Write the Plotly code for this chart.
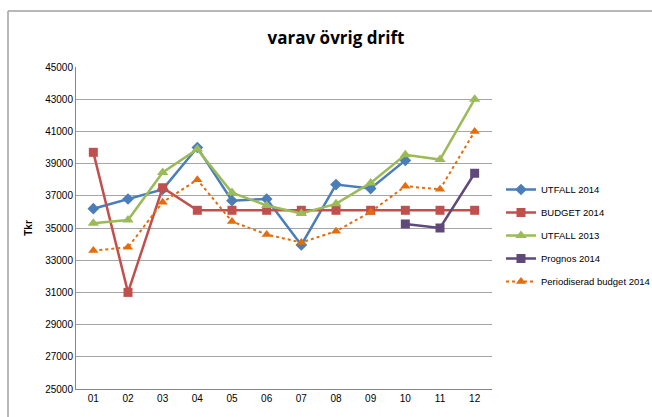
import plotly.graph_objects as go

months = ["01", "02", "03", "04", "05", "06", "07", "08", "09", "10", "11", "12"]
utfall_2014 = [36200, 36800, 37400, 40000, 36700, 36800, 33950, 37700, 37450, 39200, None, None]
budget_2014 = [39700, 31000, 37500, 36100, 36100, 36100, 36100, 36100, 36100, 36100, 36100, 36100]
utfall_2013 = [35300, 35500, 38450, 39900, 37200, 36400, 35900, 36500, 37800, 39550, 39250, 43000]
prognos_2014 = [None, None, None, None, None, None, None, None, None, 35250, 35000, 38400]
periodiserad_2014 = [33600, 33800, 36600, 38000, 35400, 34600, 34100, 34800, 36000, 37600, 37400, 41000]
y_ticks = [25000, 27000, 29000, 31000, 33000, 35000, 37000, 39000, 41000, 43000, 45000]

fig = go.Figure()
fig.add_trace(go.Scatter(x=months, y=utfall_2014, name="UTFALL 2014", mode="lines+markers",
                         legendgroup="a",
                         line=dict(color="#4A7EBB", width=2.5),
                         marker=dict(symbol="diamond", size=9, color="#4A7EBB")))
fig.add_trace(go.Scatter(x=months, y=budget_2014, name="BUDGET 2014", mode="lines+markers",
                         legendgroup="b",
                         line=dict(color="#C0504D", width=2.5),
                         marker=dict(symbol="square", size=9, color="#C0504D")))
fig.add_trace(go.Scatter(x=months, y=utfall_2013, name="UTFALL 2013", mode="lines+markers",
                         legendgroup="c",
                         line=dict(color="#9BBB59", width=2.5),
                         marker=dict(symbol="triangle-up", size=10, color="#9BBB59")))
fig.add_trace(go.Scatter(x=months, y=prognos_2014, name="Prognos 2014", mode="lines+markers",
                         legendgroup="d",
                         line=dict(color="#5F497A", width=2.5),
                         marker=dict(symbol="square", size=9, color="#5F497A")))
fig.add_trace(go.Scatter(x=months, y=periodiserad_2014, name="Periodiserad budget 2014", mode="lines+markers",
                         legendgroup="e",
                         line=dict(color="#E46C0A", width=2, dash="dot"),
                         marker=dict(symbol="triangle-up", size=9, color="#E46C0A")))

L, R, T, B = 76, 160, 67, 28
W, H = 652, 417
pw, ph = W - L - R, H - T - B

def px_x(p):
    return (p - L) / pw

def px_y(p):
    return (H - B - p) / ph

fig.add_shape(type="line", xref="paper", yref="paper",
              x0=px_x(8), x1=px_x(660), y0=px_y(11), y1=px_y(11),
              line=dict(color="#A0A0A0", width=1.5), layer="below")
fig.add_shape(type="line", xref="paper", yref="paper",
              x0=px_x(8), x1=px_x(8), y0=px_y(11), y1=px_y(430),
              line=dict(color="#A0A0A0", width=1.5), layer="below")

fig.update_layout(
    width=W, height=H,
    margin=dict(l=L, r=R, t=T, b=B, autoexpand=False),
    paper_bgcolor="white", plot_bgcolor="white",
    font=dict(family="Liberation Sans Narrow, Liberation Sans, Arial, sans-serif", size=10, color="#000000"),
    title=dict(text="<b>varav övrig drift</b>", x=336 / W, xanchor="center", y=1 - 38 / H, yanchor="middle",
               font=dict(family="Open Sans, Liberation Sans, sans-serif", size=17, color="#000000")),
    showlegend=True,
    legend=dict(x=px_x(501), y=px_y(175), xanchor="left", yanchor="top",
                font=dict(size=9.5), tracegroupgap=4, itemwidth=30,
                bgcolor="rgba(0,0,0,0)"),
    xaxis=dict(type="category", range=[-0.5, 11.5], showgrid=False,
               showline=True, linecolor="#868686", linewidth=1,
               ticks="", tickfont=dict(size=10)),
    yaxis=dict(range=[25000, 45000], tickvals=y_ticks, ticktext=[str(v) for v in y_ticks],
               showgrid=True, gridcolor="#A6A6A6", gridwidth=1,
               showline=True, linecolor="#868686", linewidth=1,
               ticks="", zeroline=False, tickfont=dict(size=10),
               title=dict(text="<b>Tkr</b>", font=dict(size=10), standoff=10)),
)

fig.write_html("out.html", config={"displayModeBar": False},
               post_script="document.body.style.margin='0';document.body.style.overflow='hidden';")
